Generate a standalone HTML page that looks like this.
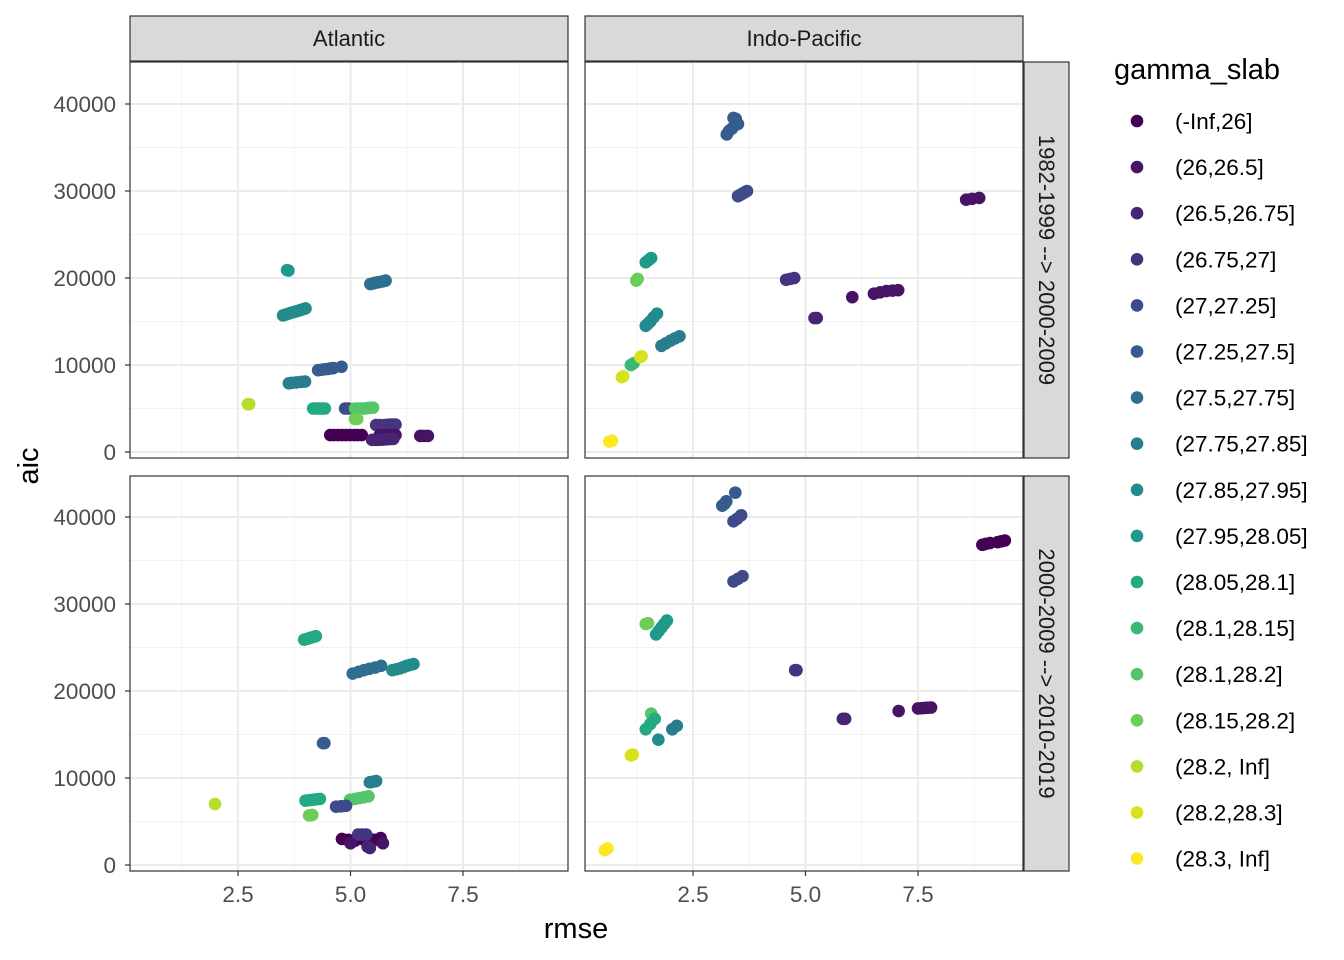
<!DOCTYPE html>
<html><head><meta charset="utf-8"><style>
body{margin:0;background:#fff;}
svg{display:block;font-family:"Liberation Sans",Arial,sans-serif;}
</style></head><body>
<svg id="chart" width="1344" height="960" viewBox="0 0 1344 960"></svg>
<script>
const colors=["#440154","#471365","#482475","#463480","#3E4A89","#365C8D","#2E6E8E","#287D8E","#228C8D","#1F9A8A","#23A983","#38B977","#54C568","#6DCD59","#B4DE2C","#D6E21B","#FDE725"];
const classes=["(-Inf,26]","(26,26.5]","(26.5,26.75]","(26.75,27]","(27,27.25]","(27.25,27.5]","(27.5,27.75]","(27.75,27.85]","(27.85,27.95]","(27.95,28.05]","(28.05,28.1]","(28.1,28.15]","(28.1,28.2]","(28.15,28.2]","(28.2, Inf]","(28.2,28.3]","(28.3, Inf]"];
const xTicks=[2.5,5.0,7.5];
const yTicks=[0,10000,20000,30000,40000];
const basins=["Atlantic","Indo-Pacific"];
const periods=["1982-1999 --> 2000-2009","2000-2009 --> 2010-2019"];
// each point: [rmse, aic, class index]
const atl1=[[3.59,20900,9],[3.62,20850,9],
[3.5,15700,8],[3.56,15800,8],[3.62,15900,8],[3.68,16000,8],[3.75,16100,8],[3.82,16200,8],[3.88,16300,8],[3.94,16400,8],[4.0,16500,8],
[5.44,19300,6],[5.5,19380,6],[5.55,19450,6],[5.6,19500,6],[5.66,19550,6],[5.72,19620,6],[5.78,19700,6],
[4.28,9400,5],[4.35,9450,5],[4.42,9500,5],[4.5,9550,5],[4.56,9600,5],[4.62,9650,5],[4.8,9800,5],
[3.63,7900,7],[3.7,7950,7],[3.8,8000,7],[3.9,8050,7],[3.99,8100,7],[2.72,5500,14],[2.75,5500,14],
[4.17,5000,10],[4.24,5000,10],[4.3,5000,10],[4.37,5000,10],[4.43,5000,10],[4.88,5000,4],[4.95,5000,4],
[5.1,5000,12],[5.18,5000,12],[5.25,5000,12],[5.32,5000,12],[5.38,5050,12],[5.44,5080,12],[5.5,5100,12],[5.1,3800,13],[5.15,3800,13],
[5.57,3100,3],[5.65,3100,3],[5.75,3100,3],[5.82,3120,3],[5.88,3150,3],[5.95,3150,3],[6.0,3150,3],
[4.55,1950,0],[4.63,1950,0],[4.72,1950,0],[4.81,1950,0],[4.9,1950,0],[4.99,1950,0],[5.08,1950,0],[5.16,1950,0],[5.25,1950,0],
[5.65,1950,1],[5.73,1950,1],[5.82,1950,1],[5.9,1950,1],[6.0,1950,1],[6.55,1850,1],[6.63,1850,1],[6.72,1850,1],
[5.48,1400,2],[5.55,1400,2],[5.62,1400,2],[5.7,1420,2],[5.78,1450,2],[5.86,1480,2],[5.95,1500,2]];
const ind1=[[3.4,38400,5],[3.45,38300,5],[3.5,37700,5],[3.25,36500,5],[3.3,36900,5],[3.37,37200,5],
[3.5,29400,4],[3.55,29550,4],[3.6,29700,4],[3.65,29850,4],[3.7,30000,4],[8.57,29000,1],[8.7,29100,1],[8.86,29200,1],
[4.57,19800,3],[4.66,19900,3],[4.75,20000,3],[5.2,15400,2],[5.25,15400,2],[6.04,17800,1],[6.52,18200,1],[6.66,18350,1],[6.8,18500,1],[6.93,18550,1],[7.06,18600,1],
[1.45,21800,9],[1.51,22050,9],[1.57,22300,9],[1.24,19700,13],[1.27,19900,13],
[1.45,14500,8],[1.5,14750,8],[1.55,15000,8],[1.62,15450,8],[1.7,15900,8],[1.8,12200,7],[1.9,12500,7],[2.0,12800,7],[2.1,13050,7],[2.2,13300,7],
[1.12,10000,11],[1.18,10200,11],[1.33,10900,15],[1.36,11000,15],[0.92,8600,15],[0.95,8700,15],[0.64,1200,16],[0.7,1300,16]];
const atl2=[[3.97,25900,10],[4.04,26000,10],[4.1,26100,10],[4.17,26200,10],[4.23,26300,10],
[5.05,22000,6],[5.18,22200,6],[5.3,22400,6],[5.42,22550,6],[5.55,22700,6],[5.68,22900,6],
[5.93,22400,8],[6.02,22500,8],[6.1,22600,8],[6.18,22750,8],[6.25,22900,8],[6.32,23000,8],[6.4,23100,8],
[4.39,14000,5],[4.42,14000,5],[1.99,7000,14],[5.43,9500,7],[5.5,9580,7],[5.57,9650,7],
[4.99,7500,12],[5.1,7600,12],[5.2,7700,12],[5.3,7800,12],[5.4,7900,12],[4.68,6700,4],[4.79,6750,4],[4.9,6800,4],
[4.0,7400,10],[4.08,7450,10],[4.16,7500,10],[4.24,7550,10],[4.32,7600,10],[4.08,5700,13],[4.15,5750,13],
[4.81,3000,0],[4.95,2900,0],[5.1,2800,0],[5.3,2900,0],[5.45,2950,0],[5.55,2900,0],[5.67,3100,0],
[5.17,3500,3],[5.26,3500,3],[5.35,3500,3],[5.0,2500,1],[5.72,2500,1],[5.43,1950,2],[5.38,2100,2]];
const ind2=[[3.44,42800,5],[3.24,41800,5],[3.15,41300,5],[3.2,41500,5],
[3.4,39500,4],[3.48,39800,4],[3.57,40200,4],[3.4,32600,4],[3.5,32900,4],[3.6,33200,4],
[8.93,36800,0],[9.1,37000,0],[9.27,37100,0],[9.43,37300,0],[9.35,37200,0],[9.0,36900,0],
[4.77,22400,3],[4.8,22400,3],[5.83,16800,2],[5.88,16800,2],[7.07,17700,1],[7.5,18000,1],[7.58,18020,1],[7.65,18050,1],[7.72,18080,1],[7.79,18100,1],
[1.5,27800,13],[1.45,27700,13],[1.68,26500,9],[1.74,26900,9],[1.8,27300,9],[1.86,27700,9],[1.92,28100,9],
[1.57,17400,12],[1.65,16800,10],[1.55,16200,10],[1.45,15600,10],[2.04,15600,7],[2.14,16000,7],
[1.73,14400,8],[1.12,12600,15],[1.16,12700,15],[0.54,1700,16],[0.6,1900,16]];

const NS="http://www.w3.org/2000/svg";
const svg=document.getElementById("chart");
function el(tag,attrs,parent){const e=document.createElementNS(NS,tag);for(const k in attrs)e.setAttribute(k,attrs[k]);(parent||svg).appendChild(e);return e;}
const panels=[
{x0:130,x1:568,y0:62,y1:458,data:atl1,xoff:125.5,yz:452},
{x0:585,x1:1023,y0:62,y1:458,data:ind1,xoff:580.5,yz:452},
{x0:130,x1:568,y0:476,y1:871,data:atl2,xoff:125.5,yz:865},
{x0:585,x1:1023,y0:476,y1:871,data:ind2,xoff:580.5,yz:865}];
const xs=45, ys=0.0087;
panels.forEach((p,pi)=>{
  const sx=v=>p.xoff+v*xs, sy=v=>p.yz-v*ys;
  const g=el("g",{});
  
  
  el("rect",{x:p.x0,y:p.y0,width:p.x1-p.x0,height:p.y1-p.y0,fill:"#fff"},g);
  [1.25,3.75,6.25,8.75].forEach(v=>el("line",{x1:sx(v),x2:sx(v),y1:p.y0,y2:p.y1,stroke:"#F2F2F2","stroke-width":1},g));
  [5000,15000,25000,35000].forEach(v=>el("line",{x1:p.x0,x2:p.x1,y1:sy(v),y2:sy(v),stroke:"#F2F2F2","stroke-width":1},g));
  xTicks.forEach(v=>el("line",{x1:sx(v),x2:sx(v),y1:p.y0,y2:p.y1,stroke:"#EBEBEB","stroke-width":2},g));
  yTicks.forEach(v=>el("line",{x1:p.x0,x2:p.x1,y1:sy(v),y2:sy(v),stroke:"#EBEBEB","stroke-width":2},g));
  p.data.forEach(d=>{
    const c=el("circle",{cx:sx(d[0]),cy:sy(d[1]),r:6.3,fill:colors[d[2]]},g);
    
    
  });
  el("rect",{x:p.x0,y:p.y0,width:p.x1-p.x0,height:p.y1-p.y0,fill:"none",stroke:"#333","stroke-width":1.2},g);
  if(pi%2===0){
    yTicks.forEach(v=>{el("line",{x1:p.x0-5,x2:p.x0,y1:sy(v),y2:sy(v),stroke:"#333","stroke-width":1.2});
      const t=el("text",{x:p.x0-14,y:sy(v)+8,"text-anchor":"end","font-size":22.5,fill:"#4D4D4D"});t.textContent=v;
      });
  }
  if(pi>=2){
    xTicks.forEach(v=>{el("line",{x1:sx(v),x2:sx(v),y1:p.y1,y2:p.y1+5,stroke:"#333","stroke-width":1.2});
      const t=el("text",{x:sx(v),y:p.y1+31,"text-anchor":"middle","font-size":22.5,fill:"#4D4D4D"});t.textContent=v.toFixed(1);
      });
  }
});
basins.forEach((b,i)=>{
  const x0=i?585:130;
  const r=el("rect",{x:x0,y:16,width:438,height:45,fill:"#D9D9D9",stroke:"#333","stroke-width":1.2});
  
  const t=el("text",{x:x0+219,y:46,"text-anchor":"middle","font-size":22,fill:"#1A1A1A"});t.textContent=b;
  
});
periods.forEach((p,i)=>{
  const y0=i?476:62, h=i?395:396;
  const r=el("rect",{x:1024,y:y0,width:45,height:h,fill:"#D9D9D9",stroke:"#333","stroke-width":1.2});
  
  const cx=1039, cy=y0+h/2;
  const t=el("text",{x:cx,y:cy,"text-anchor":"middle","font-size":22,fill:"#1A1A1A",transform:`rotate(90 ${cx} ${cy})`});t.textContent=p;
  
});
let t=el("text",{x:576,y:938,"text-anchor":"middle","font-size":29,fill:"#000"});t.textContent="rmse";

t=el("text",{x:38,y:466,"text-anchor":"middle","font-size":29,fill:"#000",transform:"rotate(-90 38 466)"});t.textContent="aic";

t=el("text",{x:1114,y:79,"font-size":29,fill:"#000"});t.textContent="gamma_slab";

classes.forEach((c,i)=>{
  const y=121+46.1*i;
  const g=el("g",{});
  
  
  el("circle",{cx:1137,cy:y,r:6.3,fill:colors[i]},g);
  const tt=el("text",{x:1175,y:y+8,"font-size":22.5,fill:"#000"},g);tt.textContent=c;
});
</script>
</body></html>
